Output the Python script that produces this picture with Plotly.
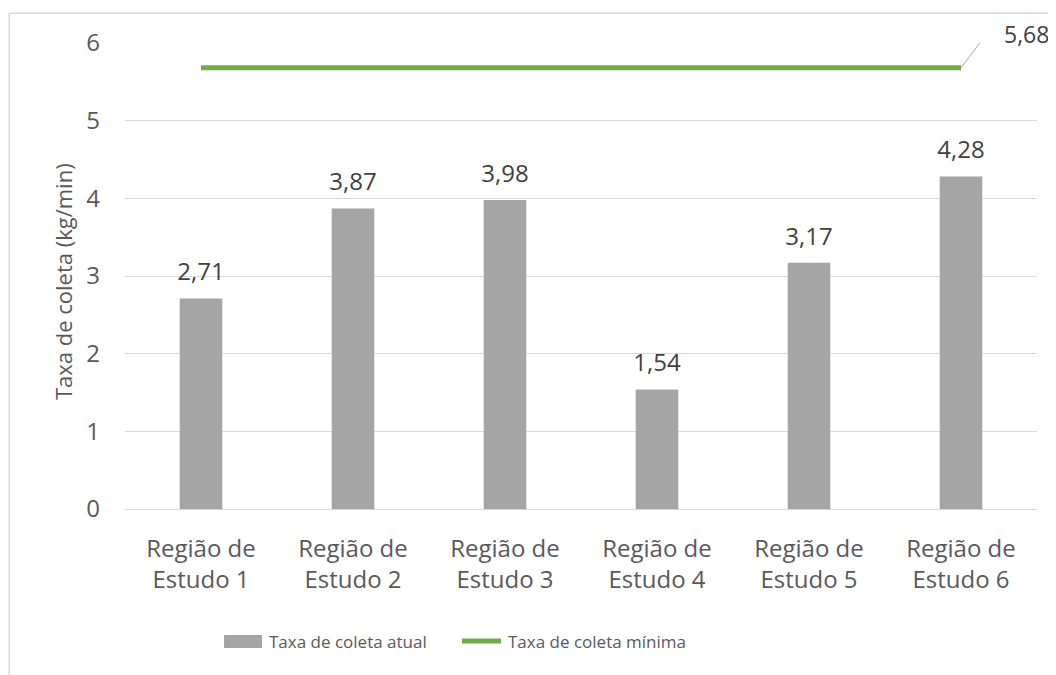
import plotly.graph_objects as go

categories = ["Região de<br>Estudo 1", "Região de<br>Estudo 2", "Região de<br>Estudo 3",
              "Região de<br>Estudo 4", "Região de<br>Estudo 5", "Região de<br>Estudo 6"]
taxa_atual = [2.71, 3.87, 3.98, 1.54, 3.17, 4.28]
taxa_minima = [5.68, 5.68, 5.68, 5.68, 5.68, 5.68]
y_ticks = [0, 1, 2, 3, 4, 5, 6]
serie_atual = "Taxa de coleta atual"
serie_minima = "Taxa de coleta mínima"
y_title = "Taxa de coleta (kg/min)"

FONT = "Open Sans"
TXT = "#595959"
LBL = "#404040"
GRID = "#d9d9d9"
GRAY = "#a5a5a5"
GREEN = "#70ad47"

fig = go.Figure()
fig.add_trace(go.Bar(
    x=categories, y=taxa_atual, name=serie_atual,
    marker=dict(color=GRAY, line=dict(width=0)),
    width=0.28, showlegend=False,
))
fig.add_trace(go.Scatter(
    x=categories, y=taxa_minima, name=serie_minima,
    mode="lines", line=dict(color=GREEN, width=5), showlegend=False,
))
# data labels above bars
fig.add_trace(go.Scatter(
    x=categories, y=taxa_atual, mode="markers+text", showlegend=False, hoverinfo="skip",
    marker=dict(size=18, opacity=0),
    texttemplate="%{y:.2f}", textposition="top center",
    textfont=dict(family=FONT, size=24, color=LBL), cliponaxis=False,
))

# data label for the last point of the minimum-rate line, with leader line
fig.add_annotation(
    x=categories[-1], y=taxa_minima[-1], text=f"{taxa_minima[-1]:.2f}".replace(".", ","),
    showarrow=False, xanchor="left", yanchor="middle", xshift=41, yshift=34,
    font=dict(family=FONT, size=23, color=LBL),
)
fig.add_shape(
    type="path", xref="x", yref="y", xsizemode="pixel", ysizemode="pixel",
    xanchor=len(categories) - 1, yanchor=taxa_minima[-1],
    path="M0,0 L25,33 L37,33", line=dict(color="#a6a6a6", width=1),
)

# y-axis title
fig.add_annotation(xref="paper", yref="paper", x=-0.068, y=0.489, text=y_title, textangle=-90,
                   showarrow=False, xanchor="center", yanchor="middle",
                   font=dict(family=FONT, size=22, color=TXT))

# chart border (partially visible)
fig.add_shape(type="line", xref="paper", yref="paper", x0=-0.127, x1=-0.127, y0=-0.45, y1=1.064,
              line=dict(color=GRID, width=1.5))
fig.add_shape(type="line", xref="paper", yref="paper", x0=-0.127, x1=1.1, y0=1.064, y1=1.064,
              line=dict(color=GRID, width=1.5))

# legend (drawn to match the reference symbols)
LEG_Y = -0.2833
fig.add_shape(type="rect", xref="paper", yref="paper", x0=0.1086, x1=0.1502, y0=-0.2704, y1=-0.2983,
              fillcolor=GRAY, line=dict(width=0))
fig.add_annotation(xref="paper", yref="paper", x=0.1557, y=LEG_Y, text=serie_atual, showarrow=False,
                   xanchor="left", yanchor="middle", font=dict(family=FONT, size=17, color=TXT))
fig.add_shape(type="line", xref="paper", yref="paper", x0=0.3695, x1=0.4123, y0=LEG_Y, y1=LEG_Y,
              line=dict(color=GREEN, width=5))
fig.add_annotation(xref="paper", yref="paper", x=0.4178, y=LEG_Y, text=serie_minima, showarrow=False,
                   xanchor="left", yanchor="middle", font=dict(family=FONT, size=17, color=TXT))

fig.update_layout(
    width=1056, height=675,
    margin=dict(l=117, r=27, t=35, b=174),
    paper_bgcolor="white", plot_bgcolor="white",
    separators=", ",
    font=dict(family=FONT, size=24, color=TXT),
    showlegend=False,
)
fig.update_xaxes(
    type="category", range=[-0.5, len(categories) - 0.5],
    showgrid=False, showline=False, zeroline=False, automargin=False,
    tickfont=dict(family=FONT, size=24, color=TXT), ticks="", ticklabelstandoff=23,
)
fig.update_yaxes(
    range=[0, 6], tickvals=y_ticks, ticktext=[str(v) for v in y_ticks], automargin=False,
    showgrid=True, gridcolor=GRID, gridwidth=1.3, zeroline=True, zerolinecolor=GRID, zerolinewidth=1.3,
    showline=False, ticks="", ticklabelstandoff=24,
    tickfont=dict(family=FONT, size=24, color=TXT),
)

fig.write_html("out.html")
